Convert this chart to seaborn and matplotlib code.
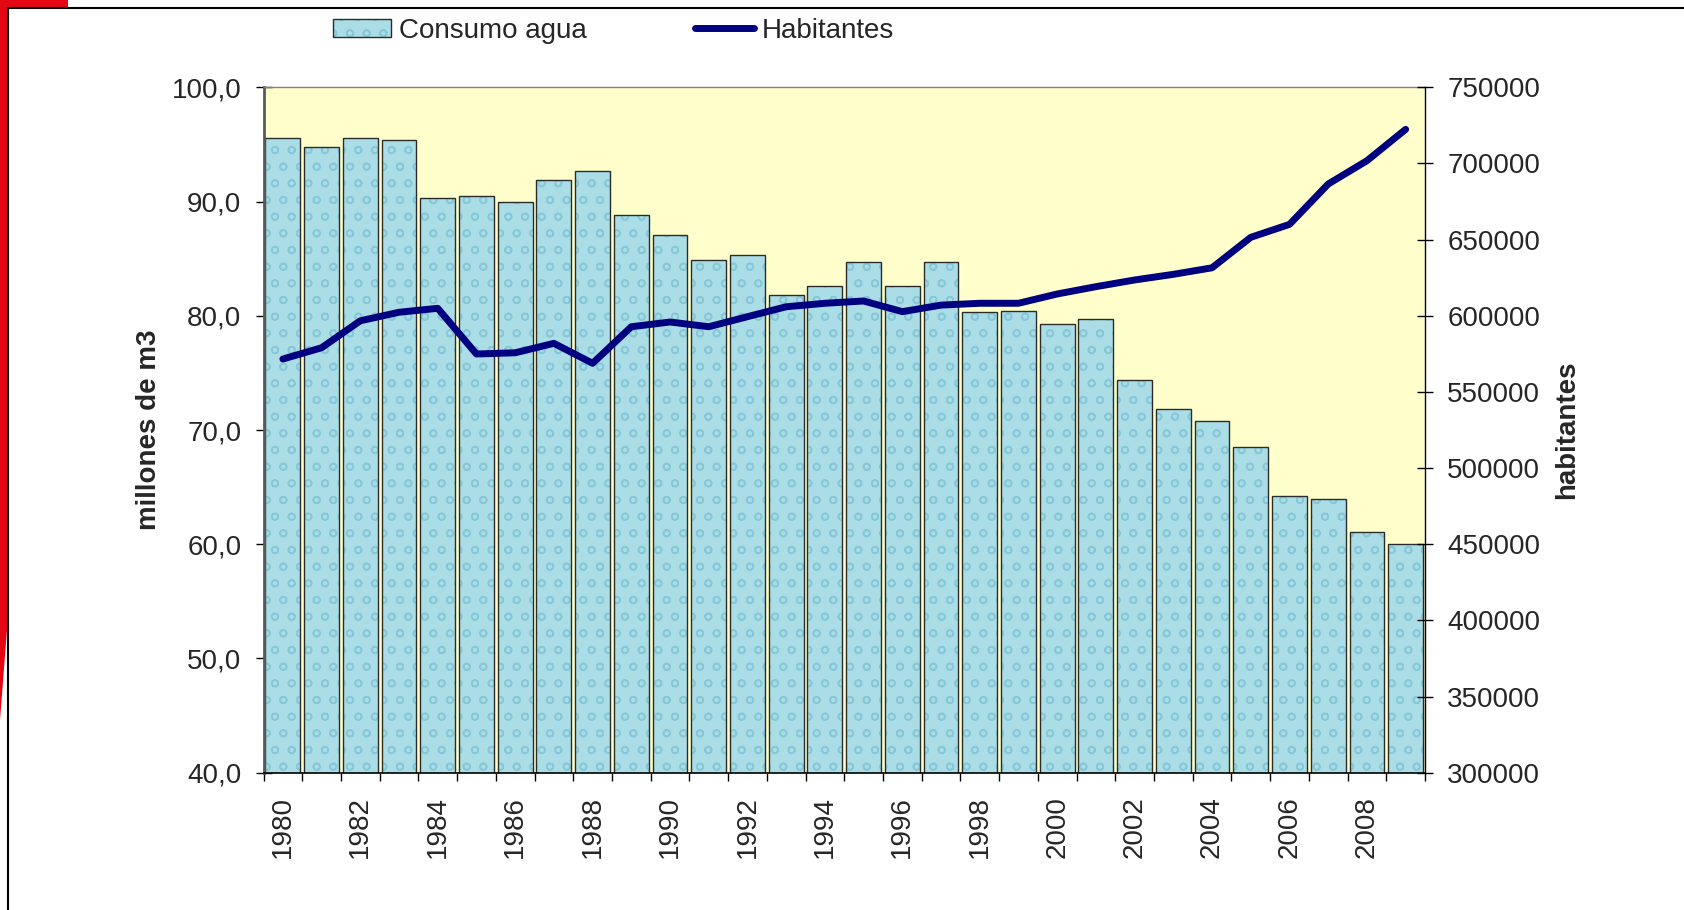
import numpy as np
import pandas as pd
import matplotlib
matplotlib.use("Agg")
import matplotlib.pyplot as plt
import seaborn as sns
from matplotlib.lines import Line2D
from matplotlib.patches import Patch, Polygon, Rectangle
from matplotlib.ticker import FuncFormatter, MultipleLocator

# ---- data ----
years = [1980, 1981, 1982, 1983, 1984, 1985, 1986, 1987, 1988, 1989,
         1990, 1991, 1992, 1993, 1994, 1995, 1996, 1997, 1998, 1999,
         2000, 2001, 2002, 2003, 2004, 2005, 2006, 2007, 2008, 2009]
consumo = [95.6, 94.8, 95.6, 95.4, 90.3, 90.5, 90.0, 91.9, 92.7, 88.8,
           87.1, 84.9, 85.3, 81.8, 82.6, 84.7, 82.6, 84.7, 80.3, 80.4,
           79.3, 79.7, 74.4, 71.8, 70.8, 68.5, 64.2, 64.0, 61.1, 60.0]
habitantes = [571600, 579000, 596700, 602300, 604900, 574900, 575700, 581900, 568800, 592800,
              595900, 592800, 599400, 605900, 608200, 609700, 602700, 607000, 608200, 608200,
              614300, 619100, 623500, 627200, 631500, 651500, 660000, 686500, 701800, 722400]
label_years = [str(y) for y in years[::2]]

BAR_COLOR = '#ABDDE7'
BUBBLE = '#86C8D8'
EDGE = '#2b2b2b'
LINE_COLOR = '#000080'
RED = '#E30613'

sns.set_theme(style="ticks")
plt.rcParams['font.family'] = ['Liberation Sans', 'DejaVu Sans']
plt.rcParams['hatch.linewidth'] = 1.2

W, H = 1684, 910
fig = plt.figure(figsize=(W / 100, H / 100), dpi=100)
fig.patch.set_facecolor('white')

ax_l, ax_r, ax_t, ax_b = 263.5, 1425, 87.3, 772.7
ax = fig.add_axes([ax_l / W, 1 - ax_b / H, (ax_r - ax_l) / W, (ax_b - ax_t) / H])
ax.set_facecolor('#FFFFCC')

df = pd.DataFrame({'anio': [str(y) for y in years], 'consumo': consumo, 'habitantes': habitantes})
df['pos'] = np.arange(len(df))

# textured fill (bubble-like hatch) and then dark outline on top
sns.barplot(data=df, x='anio', y='consumo', ax=ax, color=BAR_COLOR, saturation=1,
            width=0.9, edgecolor=BUBBLE, linewidth=0, hatch='o')
sns.barplot(data=df, x='anio', y='consumo', ax=ax, fill=False, saturation=1,
            width=0.9, edgecolor=EDGE, linewidth=1)

ax2 = ax.twinx()
sns.lineplot(data=df, x='pos', y='habitantes', ax=ax2, color=LINE_COLOR, linewidth=5,
             solid_capstyle='round', solid_joinstyle='round')

n = len(df)
ax.set_xlim(-0.5, n - 0.5)
ax.set_ylim(40, 100)
ax2.set_ylim(300000, 750000)

# x ticks
ax.set_xticks(np.arange(0, n, 2))
ax.set_xticklabels(label_years, rotation=90)
ax.set_xticks(np.arange(-0.5, n, 1), minor=True)
ax.tick_params(axis='x', which='major', length=0, pad=17, labelsize=20, bottom=True)
ax.tick_params(axis='x', which='minor', length=6, width=1, direction='out', color='black', bottom=True)
ax.set_xlabel('')

# left y
ax.yaxis.set_major_locator(MultipleLocator(10))
ax.yaxis.set_major_formatter(FuncFormatter(lambda v, p: f"{v:.1f}".replace('.', ',')))
ax.tick_params(axis='y', which='major', direction='inout', length=12, width=1, pad=10,
               labelsize=20, color='black', left=True)
ax.set_ylabel('millones de m3', fontsize=20, fontweight='bold', va='center')
ax.yaxis.set_label_coords((149 - ax_l) / (ax_r - ax_l), 0.5)

# right y
ax2.yaxis.set_major_locator(MultipleLocator(50000))
ax2.yaxis.set_major_formatter(FuncFormatter(lambda v, p: f"{int(round(v))}"))
ax2.tick_params(axis='y', which='major', direction='inout', length=12, width=1, pad=10,
                labelsize=20, color='black', right=True)
ax2.set_ylabel('habitantes', fontsize=20, fontweight='bold', va='center', rotation=90)
ax2.yaxis.set_label_coords((1567 - ax_l) / (ax_r - ax_l), 0.5)
ax2.set_xlabel('')

# spines
ax.spines['top'].set_visible(True)
ax.spines['top'].set_color('#808080')
ax.spines['top'].set_linewidth(1)
ax.spines['left'].set_color('#5a5a5a')
ax.spines['left'].set_linewidth(2)
ax.spines['bottom'].set_color('black')
ax.spines['bottom'].set_linewidth(1.2)
ax.spines['right'].set_visible(False)
for s in ['top', 'left', 'bottom']:
    ax2.spines[s].set_visible(False)
ax2.spines['right'].set_visible(True)
ax2.spines['right'].set_color('black')
ax2.spines['right'].set_linewidth(1)

# legend
bar_handle = (Patch(facecolor=BAR_COLOR, edgecolor=BUBBLE, linewidth=0, hatch='o'),
              Patch(facecolor='none', edgecolor=EDGE, linewidth=1))
line_handle = Line2D([], [], color=LINE_COLOR, linewidth=5, solid_capstyle='round')
fig.legend(handles=[bar_handle, line_handle], labels=['Consumo agua', 'Habitantes'],
           loc='center left', bbox_to_anchor=(332.5 / W, 1 - 30.7 / H),
           ncol=2, frameon=False, fontsize=20, handlelength=2.1, handleheight=0.58,
           handletextpad=0.3, columnspacing=3.9, borderpad=0, borderaxespad=0)

# decorative frame
fig.add_artist(Rectangle((0, 1 - 7 / H), 68 / W, 7 / H, transform=fig.transFigure,
                         facecolor=RED, edgecolor='none'))
fig.add_artist(Polygon([(0, 1), (7 / W, 1), (7 / W, 1 - 630 / H), (0, 1 - 720 / H)],
                       closed=True, transform=fig.transFigure, facecolor=RED, edgecolor='none'))
fig.add_artist(Line2D([8 / W, 1], [1 - 7.5 / H, 1 - 7.5 / H], transform=fig.transFigure,
                      color='black', linewidth=1.5))
fig.add_artist(Line2D([8 / W, 8 / W], [0, 1 - 7.5 / H], transform=fig.transFigure,
                      color='black', linewidth=1.5))

fig.savefig('out.png', dpi=100)
